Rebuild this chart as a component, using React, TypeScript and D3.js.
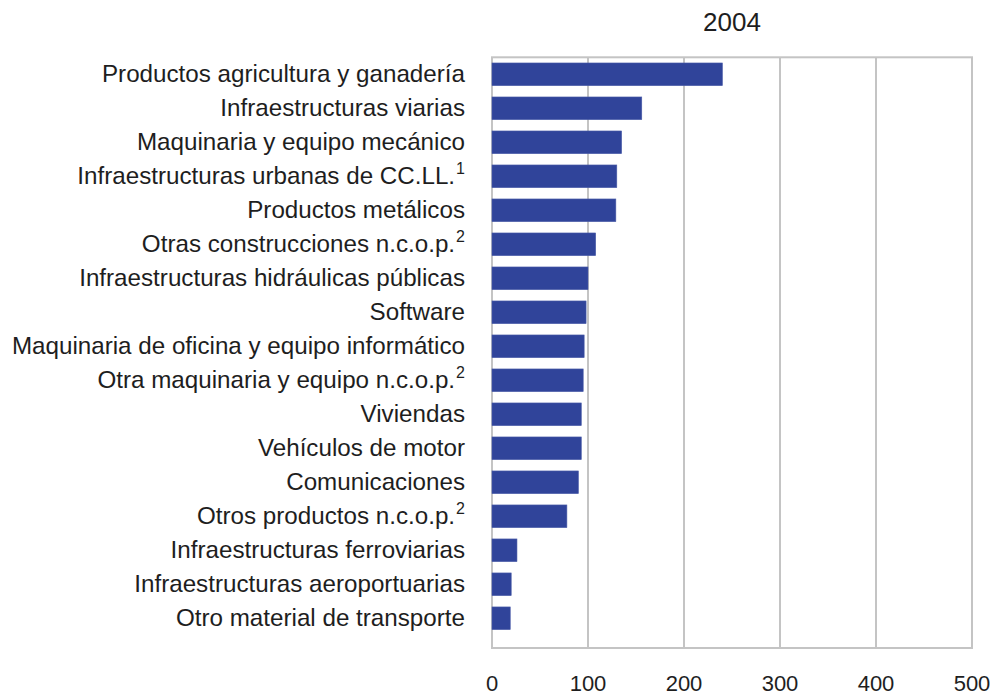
import React from "react";
import * as d3 from "d3";

const categories: string[] = [
  "Productos agricultura y ganadería",
  "Infraestructuras viarias",
  "Maquinaria y equipo mecánico",
  "Infraestructuras urbanas de CC.LL.",
  "Productos metálicos",
  "Otras construcciones n.c.o.p.",
  "Infraestructuras hidráulicas públicas",
  "Software",
  "Maquinaria de oficina y equipo informático",
  "Otra maquinaria y equipo n.c.o.p.",
  "Viviendas",
  "Vehículos de motor",
  "Comunicaciones",
  "Otros productos n.c.o.p.",
  "Infraestructuras ferroviarias",
  "Infraestructuras aeroportuarias",
  "Otro material de transporte",
];
const notes: string[] = ["", "", "", "1", "", "2", "", "", "", "2", "", "", "", "2", "", "", ""];
const values2004: number[] = [240, 156, 135, 130, 129, 108, 100, 98, 96, 95, 93, 93, 90, 78, 26, 20, 19];
const xTicks: number[] = [0, 100, 200, 300, 400, 500];
const title = "2004";

export default function App() {
  const W = 992;
  const H = 695;
  const left = 492;
  const right = 972;
  const top = 57.3;
  const bottom = 648;
  const x = d3.scaleLinear().domain([0, 500]).range([left, right]);
  const y = d3
    .scaleBand<string>()
    .domain(categories)
    .range([top, top + 34 * categories.length])
    .paddingInner(0.333)
    .paddingOuter(0.167);
  const grid = "#c4c4c4";
  const font = "'Liberation Sans', Arial, sans-serif";
  return (
    <svg
      width={W}
      height={H}
      style={{ position: "absolute", left: 0, top: 0, background: "#fff" }}
      fontFamily={font}
    >
      <text x={(left + right) / 2} y={31} textAnchor="middle" fontSize={26} fill="#1e1e1e">
        {title}
      </text>
      {xTicks.slice(1, -1).map((t) => (
        <line key={t} x1={x(t)} x2={x(t)} y1={top} y2={bottom} stroke={grid} strokeWidth={2} />
      ))}
      <rect x={left} y={top} width={right - left} height={bottom - top} fill="none" stroke={grid} strokeWidth={2} />
      {categories.map((c, i) => (
        <rect
          key={c}
          x={x(0)}
          y={y(c)!}
          width={x(values2004[i]) - x(0)}
          height={y.bandwidth()}
          fill="#30449a"
          stroke="#4a5ca8"
          strokeWidth={0.6}
        />
      ))}
      {categories.map((c, i) => (
        <text
          key={c}
          x={465}
          y={y(c)! + y.bandwidth() / 2}
          dy="0.3em"
          textAnchor="end"
          fontSize={24.2}
          fill="#1e1e1e"
        >
          {c}
          {notes[i] ? (
            <tspan fontSize={16} dy="-0.6em" dx={1}>
              {notes[i]}
            </tspan>
          ) : null}
        </text>
      ))}
      {xTicks.map((t) => (
        <text key={t} x={x(t)} y={691} textAnchor="middle" fontSize={22} fill="#1e1e1e">
          {t}
        </text>
      ))}
    </svg>
  );
}
